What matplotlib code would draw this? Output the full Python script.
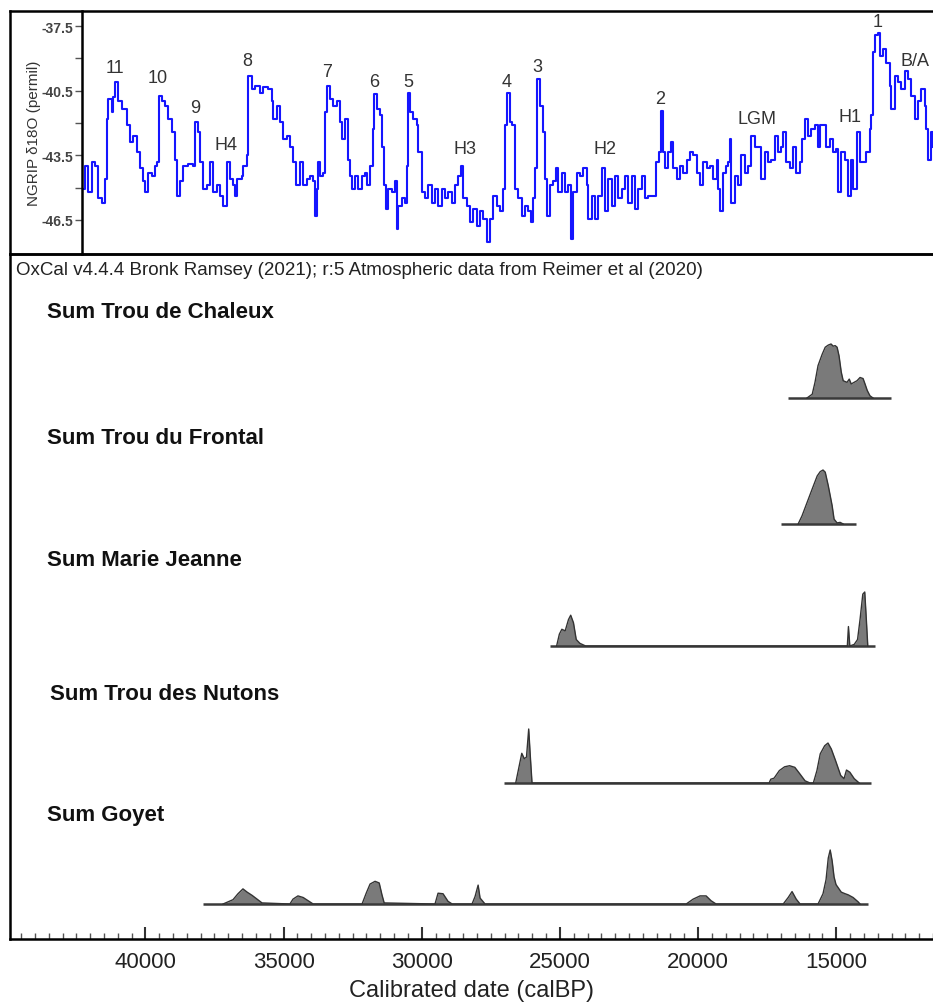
import matplotlib
matplotlib.use("Agg")
import matplotlib.pyplot as plt
from matplotlib.ticker import MultipleLocator, FixedLocator

plt.rcParams['font.family'] = ['Liberation Sans', 'DejaVu Sans']

# NGRIP d18O record (age calBP, permil)
ngrip_age = [42260, 42180, 42080, 41930, 41820, 41710, 41570, 41460, 41390, 41350,
             41210, 41170, 41100, 40990, 40850, 40660, 40560, 40450, 40300, 40190,
             40090, 40010, 39900, 39760, 39650, 39580, 39510, 39400, 39290, 39180,
             39040, 38930, 38850, 38750, 38640, 38460, 38280, 38200, 38090, 38020,
             37910, 37770, 37660, 37550, 37410, 37300, 37190, 37050, 36940, 36830,
             36760, 36680, 36500, 36470, 36320, 36290, 36140, 36030, 35850, 35740,
             35560, 35420, 35380, 35240, 35130, 35020, 34870, 34770, 34660, 34550,
             34400, 34290, 34150, 34040, 33930, 33860, 33790, 33750, 33680, 33570,
             33500, 33430, 33320, 33210, 33060, 32960, 32880, 32770, 32670, 32590,
             32520, 32410, 32300, 32160, 32050, 31980, 31870, 31760, 31730, 31620,
             31510, 31440, 31360, 31290, 31220, 31070, 30970, 30890, 30860, 30710,
             30600, 30530, 30490, 30420, 30310, 30170, 30130, 29990, 29880, 29770,
             29630, 29520, 29410, 29260, 29160, 29050, 28900, 28790, 28690, 28580,
             28500, 28360, 28250, 28140, 28000, 27890, 27780, 27640, 27530, 27420,
             27270, 27170, 27060, 26980, 26910, 26800, 26730, 26620, 26510, 26370,
             26260, 26150, 26040, 25970, 25900, 25830, 25720, 25610, 25540, 25460,
             25360, 25250, 25140, 25070, 24920, 24810, 24700, 24600, 24520, 24380,
             24270, 24160, 24020, 23980, 23840, 23730, 23620, 23470, 23370, 23260,
             23110, 23000, 22900, 22750, 22640, 22530, 22390, 22280, 22170, 22030,
             21920, 21810, 21630, 21520, 21410, 21340, 21270, 21190, 21090, 20980,
             20900, 20760, 20650, 20540, 20400, 20290, 20180, 20040, 19930, 19820,
             19670, 19570, 19460, 19310, 19280, 19200, 19100, 18990, 18910, 18840,
             18810, 18660, 18550, 18440, 18300, 18190, 18080, 17940, 17830, 17720,
             17580, 17470, 17360, 17210, 17100, 17000, 16920, 16820, 16670, 16560,
             16450, 16310, 16240, 16130, 16020, 15910, 15770, 15660, 15580, 15480,
             15370, 15220, 15110, 15010, 14930, 14820, 14680, 14570, 14460, 14390,
             14250, 14140, 14030, 13920, 13780, 13740, 13670, 13590, 13490, 13410,
             13300, 13200, 13050, 13020, 12870, 12760, 12650, 12510, 12400, 12290,
             12150, 12040, 11930, 11780, 11750, 11680, 11570, 11500]
ngrip_d18o = [-45.06, -44.0, -45.2, -43.8, -44.0, -45.5, -45.7, -44.6, -41.8, -40.9,
              -41.5, -40.8, -40.1, -41.0, -41.35, -42.1, -42.9, -42.6, -43.35, -44.1,
              -44.7, -45.2, -44.3, -44.45, -44.0, -43.8, -40.75, -41.0, -41.2, -41.8,
              -42.4, -43.7, -45.4, -44.7, -44.0, -43.9, -44.0, -41.95, -42.4, -43.8,
              -45.06, -44.9, -43.8, -45.2, -44.9, -45.4, -45.85, -43.8, -44.6, -44.9,
              -45.4, -44.6, -44.45, -44.0, -43.5, -39.8, -40.4, -40.3, -40.6, -40.35,
              -40.4, -41.0, -41.8, -41.2, -41.95, -42.75, -42.6, -43.1, -43.8, -44.9,
              -43.8, -44.9, -44.6, -44.45, -44.7, -46.3, -45.06, -43.8, -44.45, -44.3,
              -41.5, -40.3, -40.9, -41.2, -41.0, -41.95, -42.75, -41.8, -43.7, -44.45,
              -45.06, -44.45, -45.06, -44.45, -44.3, -44.9, -44.0, -42.3, -40.65, -41.35,
              -41.65, -43.1, -44.9, -46.0, -45.06, -45.2, -44.7, -46.9, -45.85, -45.5,
              -45.7, -44.0, -40.6, -41.5, -41.8, -42.1, -43.35, -45.2, -45.5, -44.9,
              -45.7, -45.06, -45.85, -45.06, -45.5, -45.2, -45.7, -44.9, -44.45, -44.0,
              -45.5, -45.85, -46.6, -46.0, -46.8, -46.1, -46.45, -47.5, -46.45, -45.4,
              -45.85, -46.1, -45.06, -42.1, -40.6, -41.95, -42.1, -45.06, -45.5, -46.3,
              -45.85, -46.1, -46.6, -45.5, -44.1, -39.95, -41.2, -42.4, -44.6, -46.3,
              -44.9, -44.7, -44.1, -45.2, -44.3, -45.2, -44.9, -47.4, -45.2, -44.3,
              -44.45, -44.1, -44.9, -46.45, -45.4, -46.45, -45.4, -44.1, -46.1, -44.6,
              -45.85, -44.45, -45.5, -45.06, -44.45, -45.7, -44.45, -46.0, -45.06, -44.45,
              -45.5, -45.4, -45.4, -43.8, -43.35, -41.45, -43.35, -44.1, -43.35, -42.9,
              -44.1, -44.6, -44.0, -44.3, -43.7, -43.35, -43.5, -44.3, -44.9, -43.8,
              -44.1, -44.0, -44.6, -43.7, -45.06, -46.1, -44.3, -44.0, -43.8, -42.75,
              -45.7, -44.45, -44.9, -43.5, -44.3, -44.0, -42.6, -43.1, -43.1, -44.6,
              -43.35, -43.8, -43.7, -42.6, -43.35, -43.1, -42.4, -43.8, -44.1, -43.1,
              -44.3, -43.8, -42.75, -41.8, -42.6, -42.3, -42.1, -43.1, -42.1, -42.1,
              -43.1, -42.75, -43.35, -43.2, -45.2, -43.35, -43.7, -45.4, -43.7, -45.06,
              -42.4, -43.8, -43.8, -43.35, -42.3, -41.65, -38.7, -37.9, -37.8, -38.9,
              -38.55, -39.2, -40.3, -41.35, -39.8, -40.1, -40.4, -39.6, -39.95, -40.75,
              -41.8, -41.0, -40.4, -41.2, -42.3, -43.7, -42.4, -43.1]

# event labels on the NGRIP panel
event_names = ['11', '10', '9', 'H4', '8', '7', '6', '5', 'H3', '4', '3', 'H2', '2', 'LGM', 'H1', '1', 'B/A']
event_age = [41100, 39540, 38200, 37080, 36320, 33430, 31730, 30490, 28430, 26910, 25830, 23370, 21370, 17860, 14500, 13520, 12150]
event_y = [-39.4, -39.87, -41.26, -43.02, -39.12, -39.59, -40.05, -40.05, -43.2, -40.05, -39.36, -43.2, -40.84, -41.81, -41.72, -37.27, -39.12]

# summed probability distributions (relative probability, max = 1)
chaleux_age = [16060, 15870, 15770, 15660, 15510, 15400, 15290, 15190, 15110, 15040, 14970, 14900, 14820,
               14750, 14610, 14530, 14460, 14390, 14250, 14140, 14030, 13960, 13880, 13780, 13670]
chaleux_p = [0, 0.07, 0.29, 0.6, 0.81, 0.94, 0.98, 1.0, 0.96, 0.97, 0.94, 0.78, 0.48,
             0.32, 0.29, 0.35, 0.26, 0.28, 0.32, 0.38, 0.36, 0.26, 0.14, 0.04, 0]
frontal_age = [16380, 16240, 16055, 15870, 15690, 15580, 15480, 15400, 15290, 15150, 15080, 14970, 14860, 14750]
frontal_p = [0, 0.15, 0.4, 0.65, 0.89, 0.97, 1.0, 0.96, 0.71, 0.34, 0.09, 0.02, 0.03, 0]
mj_age = [25120, 25020, 24930, 24810, 24690, 24610, 24510, 24410, 24280, 24070,
          14660, 14600, 14560, 14510, 14350, 14230, 14140, 14040, 13970, 13920, 13860]
mj_p = [0, 0.22, 0.31, 0.28, 0.49, 0.57, 0.43, 0.12, 0.05, 0,
        0, 0, 0.36, 0, 0.03, 0.12, 0.49, 0.96, 1.0, 0.56, 0]
nutons_age = [26600, 26480, 26380, 26290, 26210, 26130, 26070, 26010,
              17430, 17370, 17250, 17060, 16870, 16690, 16500, 16320, 16130, 15950,
              15830, 15700, 15580, 15420, 15300, 15180, 15030, 14840, 14720, 14630, 14510, 14350, 14170]
nutons_p = [0, 0.3, 0.55, 0.45, 0.48, 1.0, 0.48, 0,
            0, 0.07, 0.09, 0.23, 0.3, 0.32, 0.29, 0.17, 0.04, 0,
            0, 0.23, 0.54, 0.69, 0.74, 0.63, 0.42, 0.14, 0.08, 0.24, 0.2, 0.08, 0]
goyet_age = [37190, 36830, 36650, 36470, 36320, 36140, 35960, 35780,
             34770, 34660, 34480, 34290, 34110, 33930,
             32160, 32010, 31870, 31690, 31540, 31440, 31360,
             29520, 29410, 29230, 29050, 28900,
             28180, 28070, 27960, 27890, 27710,
             20430, 20180, 19930, 19710, 19530, 19350,
             16920, 16740, 16600, 16450, 16310,
             15660, 15480, 15370, 15290, 15220, 15150, 15080, 15010, 14820, 14680, 14570, 14390, 14210, 14140]
goyet_p = [0, 0.08, 0.19, 0.28, 0.22, 0.16, 0.09, 0.02,
           0, 0.09, 0.15, 0.12, 0.06, 0,
           0, 0.2, 0.37, 0.42, 0.39, 0.17, 0.02,
           0, 0.2, 0.19, 0.05, 0,
           0, 0.14, 0.35, 0.11, 0,
           0, 0.09, 0.15, 0.15, 0.06, 0,
           0, 0.12, 0.23, 0.09, 0,
           0, 0.19, 0.45, 0.85, 1.0, 0.8, 0.5, 0.36, 0.22, 0.19, 0.17, 0.12, 0.04, 0]

site_names = ['Sum Trou de Chaleux', 'Sum Trou du Frontal', 'Sum Marie Jeanne', 'Sum Trou des Nutons', 'Sum Goyet']
site_ages = [chaleux_age, frontal_age, mj_age, nutons_age, goyet_age]
site_probs = [chaleux_p, frontal_p, mj_p, nutons_p, goyet_p]
site_ranges = [(16740, 13020), (16990, 14280), (25360, 13610), (27030, 13740), (37910, 13850)]

# ---- layout (pixel based) ----
W, H = 933, 1003
fig = plt.figure(figsize=(W / 100, H / 100), dpi=100)

def box(x0, y0, x1, y1):
    return [x0 / W, 1 - y1 / H, (x1 - x0) / W, (y1 - y0) / H]

frame_lw = 1.8

# NGRIP panel
ax1 = fig.add_axes(box(82, 12, W, 255))
ax1.patch.set_visible(False)
ax1.plot(ngrip_age, ngrip_d18o, color='#1515ff', lw=1.5, drawstyle='steps-post')
ax1.set_xlim(42290, 11500)
ax1.set_ylim(-48.08, -36.80)
ax1.set_xticks([])
for s in ['top', 'right', 'bottom']:
    ax1.spines[s].set_visible(False)
ax1.spines['left'].set_linewidth(frame_lw)
ax1.yaxis.set_major_locator(FixedLocator([-37.5, -40.5, -43.5, -46.5]))
ax1.yaxis.set_minor_locator(FixedLocator([-39, -42, -45]))
ax1.set_yticklabels(['-37.5', '-40.5', '-43.5', '-46.5'], fontweight='bold')
ax1.tick_params(axis='y', which='major', length=5, width=1, color='#555', labelsize=10,
                labelcolor='#444', pad=1)
ax1.tick_params(axis='y', which='minor', length=5, width=1, color='#555')
ax1.set_ylabel('NGRIP δ18O (permil)', fontsize=11, color='#333', labelpad=1)
for name, ex, ey in zip(event_names, event_age, event_y):
    ax1.text(ex, ey, name, ha='center', va='center', fontsize=13, color='#333')

# top frame (holds the y label column), drawn above the curve panel
ax_frame = fig.add_axes(box(10, 12, W, 255))
ax_frame.patch.set_visible(False)
ax_frame.set_xticks([])
ax_frame.set_yticks([])
ax_frame.spines['right'].set_visible(False)
for s in ['left', 'top', 'bottom']:
    ax_frame.spines[s].set_linewidth(frame_lw)

# OxCal panel
ax2 = fig.add_axes(box(10, 255, W, 940))
ax2.patch.set_visible(False)
ax2.set_xlim(44900, 11500)
ax2.set_ylim(0, 685)
ax2.set_yticks([])
ax2.spines['right'].set_visible(False)
for s in ['left', 'top', 'bottom']:
    ax2.spines[s].set_linewidth(frame_lw)

row_base = [541, 415, 293, 156, 35]
row_label_y = [628, 502, 380, 246, 125]
row_label_x = [0.040, 0.040, 0.040, 0.043, 0.040]
peak_h = 54
for name, ages, probs, rng, base, ly, lx in zip(site_names, site_ages, site_probs, site_ranges,
                                                 row_base, row_label_y, row_label_x):
    ax2.plot(rng, [base, base], color='#3a3a3a', lw=1.8, solid_capstyle='butt')
    top = [base + p * peak_h for p in probs]
    ax2.fill_between(ages, base, top, color='#7a7a7a', lw=0)
    ax2.plot(ages, top, color='#333333', lw=1.0)
    ax2.text(lx, ly / 685, name, transform=ax2.transAxes, fontsize=16, fontweight='bold',
             color='#111', va='center', ha='left')

ax2.text(0.0065, 0.978, 'OxCal v4.4.4 Bronk Ramsey (2021); r:5 Atmospheric data from Reimer et al (2020)',
         transform=ax2.transAxes, fontsize=13.5, color='#222', va='center', ha='left')

ax2.xaxis.set_major_locator(FixedLocator([40000, 35000, 30000, 25000, 20000, 15000]))
ax2.xaxis.set_minor_locator(MultipleLocator(500))
ax2.tick_params(axis='x', which='major', direction='in', length=9, width=1.5, color='#333',
                labelsize=16, labelcolor='#222', pad=9)
ax2.tick_params(axis='x', which='minor', direction='in', length=4, width=1, color='#555')
ax2.set_xlabel('Calibrated date (calBP)', fontsize=17, color='#222', labelpad=5)

fig.savefig('out.png', dpi=100)
